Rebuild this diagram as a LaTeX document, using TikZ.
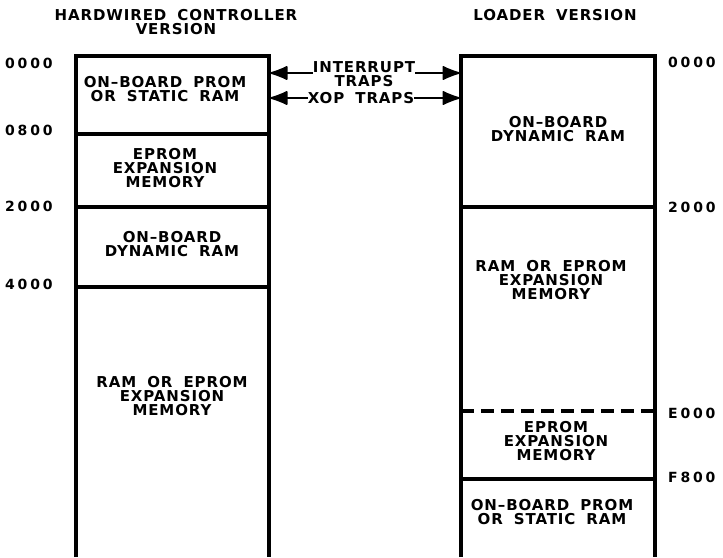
\documentclass[tikz,border=0pt]{standalone}
\usepackage{fontspec}
\setmainfont{DejaVu Sans}[LetterSpace=6,WordSpace=1.8]
\usetikzlibrary{arrows.meta}

\begin{document}
\begin{tikzpicture}[x=1pt,y=-1pt,
  lbl/.style={font=\fontsize{15}{14}\selectfont\bfseries,align=center,inner sep=0pt},
  addr/.style={font=\fontsize{14}{15}\selectfont\bfseries\addfontfeature{LetterSpace=20},anchor=west,inner sep=0pt},
  wall/.style={line width=3.2pt},
  trap/.style={line width=1.6pt,-{Latex[length=20pt,width=15pt,round]}}]
\useasboundingbox (0,0) rectangle (723,557);
% hardwired controller column
\draw[wall] (76,557) -- (76,56) -- (269,56) -- (269,557);
\draw[wall] (76,134) -- (269,134);
\draw[wall] (76,207) -- (269,207);
\draw[wall] (76,287) -- (269,287);
% loader column
\draw[wall] (461,557) -- (461,56) -- (655,56) -- (655,557);
\draw[wall] (461,207) -- (655,207);
\draw[wall,dash pattern=on 13pt off 7pt] (461,411) -- (655,411);
\draw[wall] (461,479) -- (655,479);
% titles
\node[lbl] (hwtitle) at (176,22) {HARDWIRED CONTROLLER\\VERSION};
\node[lbl] (ldtitle) at (555,15) {LOADER VERSION};
% addresses
\node[addr] (h0000) at (5,63) {0000};
\node[addr] (h0800) at (5,130) {0800};
\node[addr] (h2000) at (5,206) {2000};
\node[addr] (h4000) at (5,284) {4000};
\node[addr] (l0000) at (668,62) {0000};
\node[addr] (l2000) at (668,207) {2000};
\node[addr] (lE000) at (668,413) {E000};
\node[addr] (lF800) at (668,477) {F800};
% regions, hardwired
\node[lbl] (hprom) at (165,89) {ON--BOARD PROM\\OR STATIC RAM};
\node[lbl] (heprom) at (165,168) {EPROM\\EXPANSION\\MEMORY};
\node[lbl] (hdram) at (172,244) {ON--BOARD\\DYNAMIC RAM};
\node[lbl] (hexp) at (172,396) {RAM OR EPROM\\EXPANSION\\MEMORY};
% regions, loader
\node[lbl] (ldram) at (558,129) {ON--BOARD\\DYNAMIC RAM};
\node[lbl] (lexp) at (551,280) {RAM OR EPROM\\EXPANSION\\MEMORY};
\node[lbl] (leprom) at (556,441) {EPROM\\EXPANSION\\MEMORY};
\node[lbl] (lprom) at (552,512) {ON--BOARD PROM\\OR STATIC RAM};
% traps
\node[lbl] (intr) at (364,74) {INTERRUPT\\TRAPS};
\node[lbl] (xop) at (361,98) {XOP TRAPS};
\coordinate (hwI) at (270,73);
\coordinate (hwX) at (270,98);
\coordinate (ldI) at (460,73);
\coordinate (ldX) at (460,98);
\draw[trap] (intr.west |- hwI) -- (hwI);
\draw[trap] (intr.east |- ldI) -- (ldI);
\draw[trap] (xop.west) -- (hwX);
\draw[trap] (xop.east) -- (ldX);
\end{tikzpicture}
\end{document}
